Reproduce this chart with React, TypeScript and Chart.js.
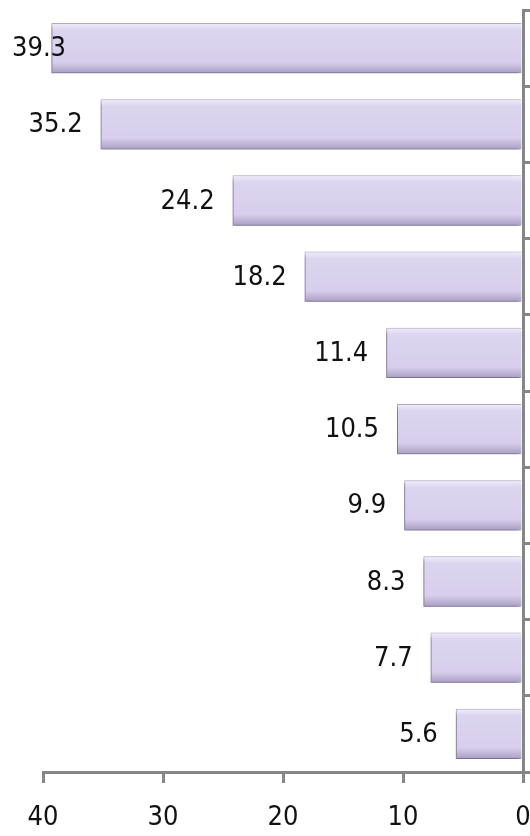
import React, { useEffect, useRef } from "react";
import { Chart, registerables } from "chart.js";

Chart.register(...registerables);

const categories = ["1", "2", "3", "4", "5", "6", "7", "8", "9", "10"];
const values = [39.3, 35.2, 24.2, 18.2, 11.4, 10.5, 9.9, 8.3, 7.7, 5.6];
const xTicks = [0, 10, 20, 30, 40];

const FONT = '"DejaVu Sans Condensed", "Liberation Sans Narrow", "Open Sans", sans-serif';
const AXIS = "#868686";
const BAR_FRACTION = 0.66;

const shadowPlugin = {
  id: "barShadow",
  beforeDatasetDraw(chart: any) {
    const ctx = chart.ctx;
    ctx.save();
    ctx.shadowColor = "rgba(70,60,100,0.6)";
    ctx.shadowBlur = 4;
    ctx.shadowOffsetX = -2;
    ctx.shadowOffsetY = 3;
  },
  afterDatasetDraw(chart: any) {
    chart.ctx.restore();
  },
};

const labelPlugin = {
  id: "valueLabels",
  afterDatasetsDraw(chart: any) {
    const ctx = chart.ctx;
    const meta = chart.getDatasetMeta(0);
    ctx.save();
    ctx.font = `27px ${FONT}`;
    ctx.fillStyle = "#111";
    ctx.textAlign = "right";
    ctx.textBaseline = "middle";
    meta.data.forEach((el: any, i: number) => {
      const txt = values[i].toFixed(1);
      const w = ctx.measureText(txt).width;
      const x = Math.max(el.x - 18, 12 + w);
      ctx.fillText(txt, x, el.y + 1);
    });
    ctx.restore();
  },
};

function App() {
  const ref = useRef<HTMLCanvasElement | null>(null);
  useEffect(() => {
    if (!ref.current) return;
    const chart = new Chart(ref.current, {
      type: "bar",
      data: {
        labels: categories,
        datasets: [
          {
            data: values,
            backgroundColor: (c: any) => {
              const chart = c.chart;
              const ys = chart.scales && chart.scales.y;
              if (c.type !== "data" || !ys || !chart.chartArea) return "#D9D2EE";
              const cy = ys.getPixelForValue(c.dataIndex);
              const step = Math.abs(ys.getPixelForValue(1) - ys.getPixelForValue(0));
              const h = (step * BAR_FRACTION) / 2;
              const g = chart.ctx.createLinearGradient(0, cy - h, 0, cy + h);
              g.addColorStop(0, "#F1EDFA");
              g.addColorStop(0.14, "#DCD5EF");
              g.addColorStop(0.78, "#D6CEEB");
              g.addColorStop(1, "#A89EC2");
              return g;
            },
            borderColor: "#B4AACB",
            borderWidth: 1,
            barPercentage: BAR_FRACTION,
            categoryPercentage: 1,
          },
        ],
      },
      options: {
        indexAxis: "y",
        responsive: false,
        animation: false,
        layout: { padding: { left: 43, top: 10, right: 0, bottom: 0 } },
        plugins: {
          legend: { display: false },
          tooltip: { enabled: false },
        },
        scales: {
          x: {
            type: "linear",
            min: 0,
            max: 40,
            reverse: true,
            position: "bottom",
            afterBuildTicks: (s: any) => {
              s.ticks = xTicks.map((v) => ({ value: v }));
            },
            afterFit: (s: any) => {
              s.height = 64;
            },
            ticks: {
              font: { family: FONT, size: 27 },
              color: "#111",
              padding: 19,
            },
            grid: {
              drawOnChartArea: false,
              drawTicks: true,
              tickLength: 11,
              color: AXIS,
              lineWidth: 3,
            },
            border: { display: true, color: AXIS, width: 3 },
          },
          y: {
            type: "category",
            position: "right",
            ticks: { display: false },
            grid: {
              offset: true,
              drawOnChartArea: false,
              drawTicks: true,
              tickLength: 7,
              color: AXIS,
              lineWidth: 3,
            },
            border: { display: true, color: AXIS, width: 3 },
          },
        },
      },
      plugins: [shadowPlugin, labelPlugin],
    } as any);
    return () => chart.destroy();
  }, []);
  return (
    <div style={{ position: "absolute", left: 0, top: 0, width: 530, height: 836, background: "#fff" }}>
      <canvas ref={ref} width={530} height={836} style={{ display: "block" }} />
    </div>
  );
}

export default App;
